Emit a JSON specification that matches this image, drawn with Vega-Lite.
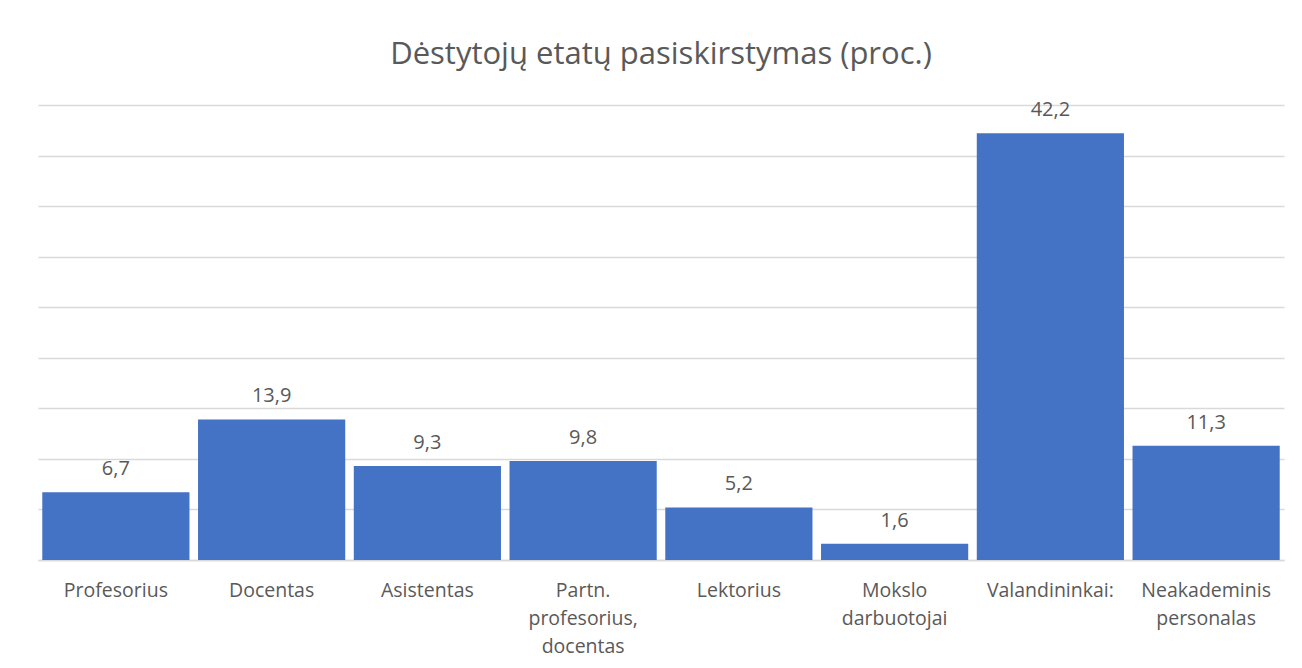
{
  "$schema": "https://vega.github.io/schema/vega-lite/v6.json",
  "autosize": {"type": "none"},
  "width": 1246,
  "height": 455,
  "padding": {"left": 38, "top": 105, "right": 18, "bottom": 108},
  "background": "white",
  "title": {
    "text": "Dėstytojų etatų pasiskirstymas (proc.)",
    "anchor": "middle",
    "font": "Open Sans",
    "fontSize": 31,
    "fontWeight": "normal",
    "color": "#595959",
    "baseline": "alphabetic",
    "offset": 5
  },
  "data": {
    "values": [
      {"category": "Profesorius", "value": 6.7},
      {"category": "Docentas", "value": 13.9},
      {"category": "Asistentas", "value": 9.3},
      {"category": "Partn. profesorius, docentas", "value": 9.8},
      {"category": "Lektorius", "value": 5.2},
      {"category": "Mokslo darbuotojai", "value": 1.6},
      {"category": "Valandininkai:", "value": 42.2},
      {"category": "Neakademinis personalas", "value": 11.3}
    ]
  },
  "encoding": {
    "x": {
      "field": "category",
      "type": "nominal",
      "sort": null,
      "scale": {"paddingInner": 0.055, "paddingOuter": 0.0275},
      "axis": {
        "title": null,
        "labelAngle": 0,
        "labelExpr": "split(datum.label, ' ')",
        "labelFont": "Open Sans",
        "labelFontSize": 19.5,
        "labelColor": "#595959",
        "labelLineHeight": 28,
        "labelPadding": 21,
        "ticks": false,
        "domainColor": "#d9d9d9",
        "domainWidth": 1.5,
        "grid": false
      }
    },
    "y": {
      "field": "value",
      "type": "quantitative",
      "scale": {"domain": [0, 45], "nice": false},
      "axis": {
        "title": null,
        "labels": false,
        "ticks": false,
        "domain": false,
        "values": [0, 5, 10, 15, 20, 25, 30, 35, 40, 45],
        "grid": true,
        "gridColor": "#d9d9d9",
        "gridWidth": 1.5
      }
    }
  },
  "layer": [
    {"mark": {"type": "bar", "color": "#4472C4"}},
    {
      "mark": {
        "type": "text",
        "font": "Open Sans",
        "fontSize": 20,
        "color": "#595959",
        "baseline": "alphabetic",
        "dy": -17
      },
      "encoding": {
        "text": {"field": "value", "type": "quantitative", "format": ".1f"}
      }
    }
  ],
  "config": {
    "view": {"stroke": null},
    "locale": {
      "number": {
        "decimal": ",",
        "thousands": " ",
        "grouping": [3],
        "currency": ["", " €"]
      }
    }
  }
}
